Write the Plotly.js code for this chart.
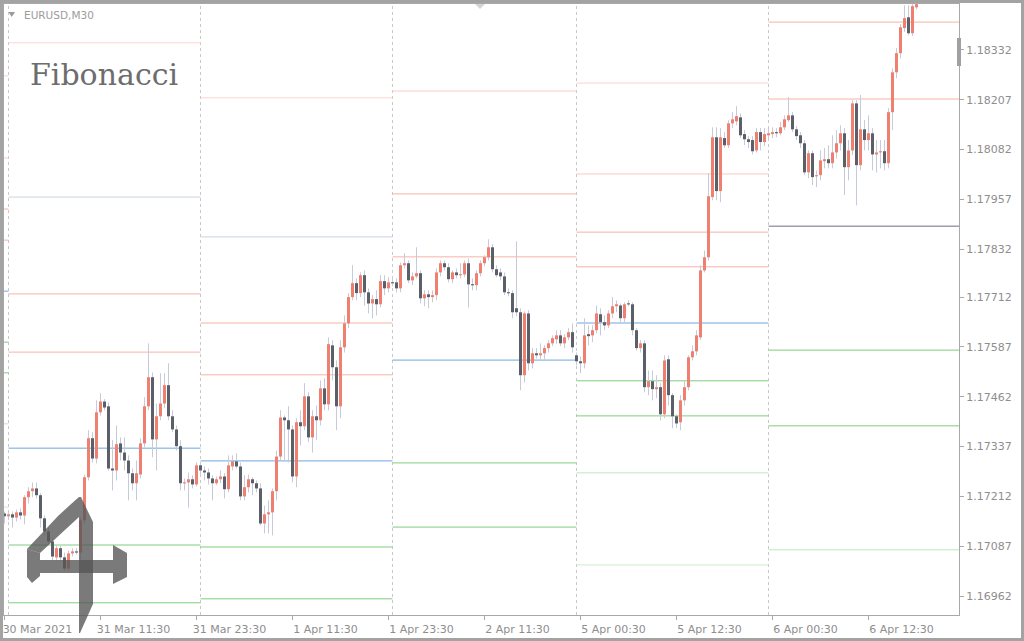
<!DOCTYPE html>
<html>
<head>
<meta charset="utf-8">
<script src="https://cdn.plot.ly/plotly-3.0.1.min.js"></script>
<style>
  html, body { margin: 0; padding: 0; background: #ffffff; }
  #chart { width: 1024px; height: 641px; }
</style>
</head>
<body>
<div id="chart"></div>
<script>
// ---------------- DATA (EURUSD, M30) ----------------
const xTickBars = [0, 24, 48, 72, 96, 120, 144, 168, 192, 216];
const xTickText = ["30 Mar 2021", "31 Mar 11:30", "31 Mar 23:30", "1 Apr 11:30", "1 Apr 23:30",
                   "2 Apr 11:30", "5 Apr 00:30", "5 Apr 12:30", "6 Apr 00:30", "6 Apr 12:30"];
const yTickVals = [1.18332, 1.18207, 1.18082, 1.17957, 1.17832, 1.17712, 1.17587, 1.17462, 1.17337, 1.17212, 1.17087, 1.16962];
const yTickText = ["1.18332", "1.18207", "1.18082", "1.17957", "1.17832", "1.17712", "1.17587", "1.17462", "1.17337", "1.17212", "1.17087", "1.16962"];

const open = [
1.17169,1.17162,1.17167,1.17159,1.17172,1.17164,1.17210,1.17225,1.17232,1.17215,
1.17157,1.17124,1.17099,1.17059,1.17082,1.17059,1.17031,1.17069,1.17074,1.17071,
1.17152,1.17260,1.17358,1.17307,1.17423,1.17450,1.17438,1.17282,1.17277,1.17345,
1.17322,1.17302,1.17270,1.17245,1.17267,1.17345,1.17438,1.17511,1.17355,1.17413,
1.17445,1.17491,1.17413,1.17380,1.17338,1.17245,1.17247,1.17255,1.17242,1.17290,
1.17277,1.17272,1.17257,1.17245,1.17255,1.17262,1.17230,1.17287,1.17300,1.17287,
1.17212,1.17235,1.17255,1.17245,1.17232,1.17144,1.17167,1.17172,1.17225,1.17312,
1.17410,1.17403,1.17380,1.17262,1.17398,1.17388,1.17463,1.17360,1.17413,1.17403,
1.17483,1.17443,1.17591,1.17536,1.17438,1.17586,1.17646,1.17712,1.17747,1.17722,
1.17767,1.17724,1.17696,1.17707,1.17694,1.17752,1.17734,1.17749,1.17749,1.17734,
1.17792,1.17797,1.17754,1.17764,1.17772,1.17709,1.17719,1.17712,1.17717,1.17774,
1.17797,1.17787,1.17757,1.17774,1.17767,1.17769,1.17797,1.17744,1.17742,1.17772,
1.17797,1.17812,1.17837,1.17782,1.17774,1.17764,1.17724,1.17722,1.17684,1.17674,
1.17516,1.17671,1.17546,1.17571,1.17566,1.17571,1.17584,1.17596,1.17606,1.17616,
1.17596,1.17611,1.17624,1.17566,1.17551,1.17546,1.17619,1.17616,1.17629,1.17669,
1.17649,1.17641,1.17671,1.17689,1.17691,1.17659,1.17696,1.17694,1.17629,1.17584,
1.17596,1.17486,1.17501,1.17481,1.17486,1.17418,1.17556,1.17466,1.17413,1.17398,
1.17453,1.17486,1.17561,1.17576,1.17611,1.17779,1.17812,1.17963,1.18113,1.17978,
1.18111,1.18093,1.18148,1.18153,1.18163,1.18121,1.18108,1.18106,1.18080,1.18126,
1.18101,1.18118,1.18121,1.18126,1.18123,1.18138,1.18156,1.18168,1.18133,1.18118,
1.18098,1.18025,1.18073,1.18015,1.18018,1.18053,1.18058,1.18048,1.18075,1.18098,
1.18123,1.18038,1.18080,1.18198,1.18043,1.18133,1.18106,1.18123,1.18070,1.18075,
1.18078,1.18048,1.18176,1.18276,1.18324,1.18387,1.18414,1.18374,1.18439];

const high = [
1.17174,1.17174,1.17174,1.17179,1.17182,1.17215,1.17235,1.17247,1.17247,1.17220,
1.17164,1.17132,1.17107,1.17089,1.17089,1.17071,1.17076,1.17082,1.17082,1.17159,
1.17267,1.17378,1.17373,1.17453,1.17471,1.17456,1.17448,1.17353,1.17390,1.17360,
1.17360,1.17315,1.17282,1.17302,1.17358,1.17461,1.17596,1.17523,1.17445,1.17521,
1.17521,1.17546,1.17428,1.17390,1.17353,1.17257,1.17272,1.17265,1.17297,1.17297,
1.17287,1.17282,1.17265,1.17262,1.17277,1.17270,1.17315,1.17315,1.17320,1.17297,
1.17265,1.17267,1.17260,1.17252,1.17245,1.17189,1.17202,1.17232,1.17327,1.17428,
1.17415,1.17438,1.17390,1.17408,1.17428,1.17496,1.17473,1.17428,1.17440,1.17503,
1.17508,1.17611,1.17604,1.17553,1.17604,1.17666,1.17722,1.17792,1.17759,1.17774,
1.17779,1.17734,1.17717,1.17729,1.17767,1.17767,1.17762,1.17764,1.17759,1.17799,
1.17822,1.17804,1.17774,1.17837,1.17779,1.17729,1.17729,1.17729,1.17784,1.17804,
1.17804,1.17797,1.17779,1.17784,1.17797,1.17804,1.17809,1.17759,1.17779,1.17804,
1.17817,1.17857,1.17845,1.17792,1.17784,1.17774,1.17734,1.17729,1.17852,1.17684,
1.17676,1.17679,1.17584,1.17584,1.17596,1.17591,1.17604,1.17616,1.17629,1.17629,
1.17619,1.17634,1.17646,1.17573,1.17563,1.17659,1.17641,1.17641,1.17691,1.17684,
1.17666,1.17679,1.17712,1.17704,1.17696,1.17699,1.17704,1.17699,1.17634,1.17604,
1.17604,1.17528,1.17528,1.17516,1.17496,1.17566,1.17566,1.17471,1.17418,1.17466,
1.17503,1.17566,1.17591,1.17629,1.17792,1.17829,1.18023,1.18138,1.18138,1.18136,
1.18126,1.18156,1.18176,1.18191,1.18173,1.18131,1.18116,1.18116,1.18136,1.18136,
1.18136,1.18136,1.18138,1.18136,1.18151,1.18168,1.18214,1.18176,1.18141,1.18126,
1.18106,1.18080,1.18080,1.18030,1.18080,1.18086,1.18093,1.18118,1.18131,1.18143,
1.18136,1.18106,1.18206,1.18206,1.18219,1.18156,1.18168,1.18136,1.18106,1.18106,
1.18106,1.18186,1.18286,1.18337,1.18397,1.18444,1.18444,1.18447,1.18449];

const low = [
1.17144,1.17152,1.17134,1.17149,1.17154,1.17142,1.17194,1.17210,1.17207,1.17134,
1.17114,1.17089,1.17051,1.17051,1.17051,1.17026,1.17026,1.17061,1.17066,1.17051,
1.17142,1.17252,1.17297,1.17295,1.17415,1.17428,1.17277,1.17227,1.17252,1.17302,
1.17277,1.17202,1.17227,1.17202,1.17257,1.17335,1.17428,1.17310,1.17277,1.17403,
1.17433,1.17403,1.17373,1.17327,1.17227,1.17227,1.17184,1.17232,1.17237,1.17267,
1.17252,1.17242,1.17202,1.17240,1.17245,1.17207,1.17222,1.17277,1.17282,1.17202,
1.17202,1.17222,1.17215,1.17222,1.17139,1.17119,1.17119,1.17114,1.17202,1.17302,
1.17302,1.17297,1.17247,1.17235,1.17340,1.17378,1.17348,1.17322,1.17353,1.17390,
1.17428,1.17428,1.17503,1.17378,1.17408,1.17573,1.17634,1.17704,1.17704,1.17712,
1.17691,1.17671,1.17659,1.17666,1.17686,1.17717,1.17724,1.17739,1.17724,1.17724,
1.17784,1.17747,1.17742,1.17759,1.17696,1.17689,1.17684,1.17699,1.17704,1.17764,
1.17779,1.17749,1.17747,1.17759,1.17759,1.17762,1.17686,1.17729,1.17729,1.17764,
1.17789,1.17804,1.17774,1.17762,1.17754,1.17717,1.17714,1.17659,1.17664,1.17478,
1.17498,1.17528,1.17533,1.17558,1.17553,1.17553,1.17573,1.17589,1.17594,1.17589,
1.17584,1.17604,1.17573,1.17541,1.17521,1.17533,1.17591,1.17599,1.17621,1.17616,
1.17629,1.17634,1.17659,1.17674,1.17649,1.17649,1.17689,1.17616,1.17578,1.17573,
1.17473,1.17466,1.17453,1.17458,1.17403,1.17408,1.17440,1.17383,1.17383,1.17378,
1.17440,1.17478,1.17553,1.17566,1.17604,1.17774,1.17804,1.17955,1.17955,1.17950,
1.18086,1.18086,1.18136,1.18143,1.18111,1.18093,1.18086,1.18070,1.18075,1.18080,
1.18091,1.18106,1.18111,1.18113,1.18118,1.18131,1.18151,1.18126,1.18106,1.18086,
1.18018,1.18010,1.17993,1.17988,1.18005,1.18035,1.18035,1.18035,1.18060,1.18080,
1.17968,1.18005,1.18068,1.17942,1.18030,1.18080,1.18080,1.18030,1.18025,1.18035,
1.18030,1.18035,1.18131,1.18261,1.18311,1.18377,1.18369,1.18367,1.18434];

const close = [
1.17162,1.17167,1.17159,1.17172,1.17164,1.17210,1.17225,1.17232,1.17215,1.17157,
1.17124,1.17099,1.17061,1.17082,1.17059,1.17031,1.17069,1.17074,1.17071,1.17152,
1.17260,1.17358,1.17307,1.17423,1.17450,1.17435,1.17282,1.17277,1.17343,1.17322,
1.17302,1.17270,1.17245,1.17270,1.17345,1.17438,1.17511,1.17355,1.17413,1.17445,
1.17491,1.17413,1.17380,1.17338,1.17245,1.17247,1.17255,1.17242,1.17290,1.17277,
1.17272,1.17257,1.17245,1.17255,1.17262,1.17230,1.17290,1.17300,1.17287,1.17212,
1.17235,1.17255,1.17245,1.17232,1.17144,1.17167,1.17172,1.17225,1.17312,1.17410,
1.17403,1.17380,1.17262,1.17398,1.17388,1.17463,1.17360,1.17413,1.17403,1.17483,
1.17443,1.17594,1.17536,1.17438,1.17586,1.17646,1.17712,1.17747,1.17722,1.17767,
1.17724,1.17696,1.17707,1.17694,1.17752,1.17734,1.17749,1.17747,1.17734,1.17792,
1.17797,1.17754,1.17764,1.17772,1.17709,1.17719,1.17712,1.17717,1.17774,1.17797,
1.17787,1.17757,1.17774,1.17767,1.17769,1.17797,1.17744,1.17742,1.17772,1.17797,
1.17812,1.17837,1.17782,1.17767,1.17764,1.17724,1.17722,1.17674,1.17674,1.17516,
1.17671,1.17546,1.17571,1.17566,1.17571,1.17584,1.17596,1.17609,1.17616,1.17596,
1.17611,1.17624,1.17586,1.17551,1.17546,1.17616,1.17614,1.17629,1.17671,1.17649,
1.17641,1.17671,1.17689,1.17694,1.17659,1.17694,1.17694,1.17629,1.17584,1.17596,
1.17486,1.17501,1.17481,1.17486,1.17418,1.17553,1.17466,1.17413,1.17395,1.17453,
1.17486,1.17561,1.17576,1.17616,1.17779,1.17812,1.17965,1.18113,1.17978,1.18113,
1.18093,1.18148,1.18158,1.18166,1.18118,1.18108,1.18101,1.18078,1.18126,1.18101,
1.18121,1.18123,1.18126,1.18123,1.18138,1.18158,1.18168,1.18133,1.18116,1.18098,
1.18025,1.18073,1.18013,1.18018,1.18055,1.18058,1.18048,1.18075,1.18098,1.18123,
1.18038,1.18080,1.18198,1.18043,1.18133,1.18106,1.18123,1.18070,1.18075,1.18078,
1.18048,1.18176,1.18276,1.18324,1.18389,1.18412,1.18374,1.18442,1.18447];

// Day separators (bar index of each day's first bar): 31 Mar, 1 Apr, 2 Apr, 5 Apr, 6 Apr
const daySeparators = [1, 49, 97, 143, 191];
// Fibonacci pivot levels per day: [30 Mar, 31 Mar, 1 Apr, 2 Apr, 5 Apr, 6 Apr]
const levR1618 = [1.18267, 1.18350, 1.18212, null, 1.18249, null];
const levR3 = [1.18061, 1.17963, 1.17863, 1.18229, 1.18021, null];
const levR2 = [1.17933, 1.17720, 1.17647, 1.17971, 1.17875, 1.18402];
const levR1 = [1.17855, 1.17574, 1.17517, 1.17813, 1.17788, 1.18209];
const levPP = [1.17727, 1.17333, 1.17301, 1.17554, 1.17647, 1.17890];
const levS1 = [1.17599, 1.17090, 1.17085, 1.17296, 1.17502, 1.17579];
const levS2 = [1.17522, 1.16945, 1.16955, 1.17135, 1.17414, 1.17389];
const levS3 = [1.17394, null, null, null, 1.17271, 1.17078];
const levS1618 = [1.17185, null, null, null, 1.17040, null];

// ---------------- STYLE ----------------
const BULL = '#ef7f6f', BEAR = '#5b5f67', WICK = '#c7cad8';
const X_MIN = -0.125, X_MAX = 238.625;   // 4 px per bar
const Y_MIN = 1.169144, Y_MAX = 1.184474;
const MIN_BODY = 0.000028;
const PLOT = {l: 4, t: 4, r: 959, b: 615};
const fx = x => (x - PLOT.l) / (PLOT.r - PLOT.l);
const fy = y => (PLOT.b - y) / (PLOT.b - PLOT.t);
const pathOf = pts => 'M' + pts.map(p => fx(p[0]).toFixed(5) + ',' + fy(p[1]).toFixed(5)).join(' L') + ' Z';

const n = open.length;

// wicks
const wx = [], wy = [];
for (let i = 0; i < n; i++) { wx.push(i, i, null); wy.push(low[i], high[i], null); }
const wickTrace = {type: 'scatter', mode: 'lines', x: wx, y: wy, line: {color: WICK, width: 1},
  hoverinfo: 'skip', showlegend: false};

// bodies: thick vertical segments from open to close (bull / bear)
function bodyTrace(isBull, color) {
  const bx = [], by = [];
  for (let i = 0; i < n; i++) {
    if ((close[i] > open[i]) !== isBull) continue;
    let a = Math.min(open[i], close[i]), b = Math.max(open[i], close[i]);
    if (b - a < MIN_BODY) { const m = (a + b) / 2; a = m - MIN_BODY / 2; b = m + MIN_BODY / 2; }
    bx.push(i, i, null); by.push(a, b, null);
  }
  return {type: 'scatter', mode: 'lines', x: bx, y: by, line: {color: color, width: 3},
    hoverinfo: 'skip', showlegend: false};
}

// pivot level lines (one segment per day; colours per level, with a few per-day colours)
const dayStart = [X_MIN].concat(daySeparators);
const dayEnd = daySeparators.concat([X_MAX]);
const levelSpecs = [
  [levR1618, ['#fbd3cc', '#fbd3cc', '#fbd3cc', '#fbd3cc', '#fbd3cc', '#fbd3cc']],
  [levR3,    ['#f9cdc5', '#c9d4e4', '#c9d4e4', '#f9cdc5', '#f9c8bf', '#f9cdc5']],
  [levR2,    ['#f7b2a6', '#f7b2a6', '#f7b2a6', '#f7b2a6', '#f7b2a6', '#f7b2a6']],
  [levR1,    ['#f7b2a6', '#f7b2a6', '#f7b2a6', '#f7b2a6', '#f7b2a6', '#f7b2a6']],
  [levPP,    ['#6ea6e0', '#6ea6e0', '#6ea6e0', '#6ea6e0', '#6ea6e0', '#6b7079']],
  [levS1,    ['#7fcd7f', '#7fcd7f', '#7fcd7f', '#7fcd7f', '#7fcd7f', '#7fcd7f']],
  [levS2,    ['#7fcd7f', '#7fcd7f', '#7fcd7f', '#7fcd7f', '#7fcd7f', '#7fcd7f']],
  [levS3,    ['#bfe6bf', '#bfe6bf', '#bfe6bf', '#bfe6bf', '#bfe6bf', '#bfe6bf']],
  [levS1618, ['#cdeccd', '#cdeccd', '#cdeccd', '#cdeccd', '#cdeccd', '#cdeccd']]
];
const levelTraces = [];
levelSpecs.forEach(([vals, cols]) => {
  vals.forEach((v, d) => {
    if (v === null) return;
    levelTraces.push({type: 'scatter', mode: 'lines', x: [dayStart[d], dayEnd[d]], y: [v, v],
      line: {color: cols[d], width: 1}, hoverinfo: 'skip', showlegend: false});
  });
});

// separators
const shapes = daySeparators.map(b => ({type: 'line', xref: 'x', yref: 'paper', x0: b, x1: b, y0: 0, y1: 1,
  line: {color: '#c9c9c9', width: 1, dash: '3px,3px'}, layer: 'below'}));

// outer frame, markers, watermark logo
shapes.push({type: 'rect', xref: 'paper', yref: 'paper', x0: fx(1.5), x1: fx(1022.5), y0: fy(639.5), y1: fy(1.5),
  line: {color: '#a3a3a3', width: 3}, fillcolor: 'rgba(0,0,0,0)'});
shapes.push({type: 'path', xref: 'paper', yref: 'paper', path: pathOf([[8.5, 12], [15, 12], [11.75, 17]]),
  fillcolor: '#9a9a9a', line: {width: 0}});
shapes.push({type: 'path', xref: 'paper', yref: 'paper', path: pathOf([[475, 4], [485, 4], [480, 9]]),
  fillcolor: '#d4d4d4', line: {width: 0}});
shapes.push({type: 'rect', xref: 'paper', yref: 'paper', x0: fx(957), x1: fx(961), y0: fy(66), y1: fy(38),
  fillcolor: '#a0a0a0', line: {width: 0}});
const logoParts = [
  [[79, 497], [81, 497], [93, 522], [93, 604], [80, 633], [79, 633]],
  [[79, 497], [70, 505], [58, 516], [44, 531], [27, 549], [40, 553], [53, 541], [66, 529], [79, 517]],
  [[27, 549], [40, 553], [40, 576], [32, 583], [27, 577]],
  [[40, 560], [113, 560], [113, 573], [40, 573]],
  [[113, 545], [127, 553], [127, 577], [113, 584]]
];
logoParts.forEach(p => shapes.push({type: 'path', xref: 'paper', yref: 'paper', path: pathOf(p),
  fillcolor: '#555555', opacity: 0.78, line: {width: 0}, layer: 'above'}));

const annotations = [
  {xref: 'paper', yref: 'paper', x: fx(22), y: fy(15), xanchor: 'left', yanchor: 'middle', showarrow: false,
   text: 'EURUSD,M30', font: {family: 'DejaVu Sans', size: 10.5, color: '#9c9c9c'}},
  {xref: 'paper', yref: 'paper', x: fx(28), y: fy(75), xanchor: 'left', yanchor: 'middle', showarrow: false,
   text: 'Fibonacci', font: {family: 'DejaVu Serif', size: 30, color: '#6d6d6d'}}
];

const axisFont = {family: 'DejaVu Sans', size: 11, color: '#8e8e8e'};
const layout = {
  width: 1024, height: 641,
  margin: {l: PLOT.l, r: 1024 - PLOT.r, t: PLOT.t, b: 641 - PLOT.b, pad: 0},
  paper_bgcolor: '#ffffff', plot_bgcolor: '#ffffff',
  showlegend: false, hovermode: false,
  xaxis: {range: [X_MIN, X_MAX], tickmode: 'array', tickvals: xTickBars, ticktext: xTickText,
    showgrid: false, zeroline: false, showline: true, linecolor: '#a8a8a8', linewidth: 1, mirror: true,
    ticks: 'outside', ticklen: 4, tickcolor: '#a8a8a8', tickfont: axisFont, ticklabelshift: 33, fixedrange: true},
  yaxis: {range: [Y_MIN, Y_MAX], side: 'right', tickmode: 'array', tickvals: yTickVals, ticktext: yTickText,
    showgrid: false, zeroline: false, showline: true, linecolor: '#a8a8a8', linewidth: 1, mirror: true,
    ticks: 'outside', ticklen: 4, tickcolor: '#a8a8a8', tickfont: axisFont, fixedrange: true},
  shapes: shapes,
  annotations: annotations
};

const traces = levelTraces.concat([wickTrace, bodyTrace(true, BULL), bodyTrace(false, BEAR)]);
Plotly.newPlot('chart', traces, layout, {displayModeBar: false, staticPlot: true});
</script>
</body>
</html>
